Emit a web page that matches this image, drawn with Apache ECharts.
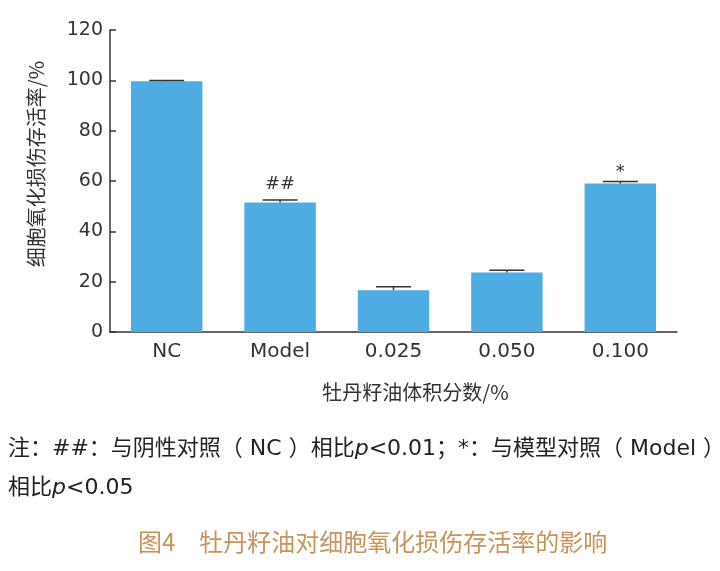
<!DOCTYPE html>
<html>
<head>
<meta charset="utf-8">
<script src="https://cdn.jsdelivr.net/npm/echarts@6/dist/echarts.min.js"></script>
<style>html,body{margin:0;padding:0;background:#fff;}#c{width:720px;height:571px;}</style>
</head>
<body>
<div id="c"></div>
<script>
var categories = ['NC', 'Model', '0.025', '0.050', '0.100'];
var values = [99.6, 51.5, 16.6, 23.6, 59.0];
var errors = [0.3, 1.0, 1.4, 0.9, 0.8];
var marks = ['', '##', '', '', '*'];
var yTicks = [0, 20, 40, 60, 80, 100, 120];
var yName = '细胞氧化损伤存活率/%';
var xName = '牡丹籽油体积分数/%';
var noteLine1 = '注：##：与阴性对照（ NC ）相比p<0.01；*：与模型对照（ Model ）';
var noteLine2 = '相比p<0.05';
var caption = '图4　牡丹籽油对细胞氧化损伤存活率的影响';

var FONT = '"DejaVu Sans", "Noto Sans CJK SC", sans-serif';
var CJK = '"Noto Sans CJK SC", sans-serif';

var chart = echarts.init(document.getElementById('c'));
var errData = values.map(function (v, i) { return [i, v, v + errors[i], marks[i]]; });

function richNote(s) {
  return s.replace('p<', '{i|p}<');
}

chart.setOption({
  animation: false,
  grid: { left: 110, right: 43, top: 30, bottom: 239 },
  xAxis: {
    type: 'category',
    data: categories,
    axisLine: { lineStyle: { color: '#333', width: 1.5 } },
    axisTick: { inside: true, alignWithLabel: true, length: 5, lineStyle: { color: '#333', width: 1.5 } },
    axisLabel: { color: '#333', fontSize: 20, fontFamily: FONT, margin: 10 },
    name: xName,
    nameLocation: 'middle',
    nameGap: 50,
    nameTextStyle: { color: '#333', fontSize: 20, fontFamily: CJK, padding: [0, 0, 0, 44] }
  },
  yAxis: {
    type: 'value',
    min: yTicks[0],
    max: yTicks[yTicks.length - 1],
    interval: 20,
    splitLine: { show: false },
    axisLine: { show: true, lineStyle: { color: '#333', width: 1.5 } },
    axisTick: { show: true, inside: true, length: 6, lineStyle: { color: '#333', width: 1.5 } },
    axisLabel: { color: '#333', fontSize: 19, fontFamily: FONT, margin: 7 },
    name: yName,
    nameLocation: 'middle',
    nameGap: 64,
    nameRotate: 90,
    nameTextStyle: { color: '#333', fontSize: 20, fontFamily: CJK, padding: [0, 0, 0, 34] }
  },
  series: [
    {
      type: 'bar',
      data: values,
      barWidth: '63%',
      itemStyle: { color: '#4FACE2' }
    },
    {
      type: 'custom',
      data: errData,
      z: 5,
      renderItem: function (params, api) {
        var x = api.value(0);
        var top = api.coord([x, api.value(2)]);
        var base = api.coord([x, api.value(1)]);
        var half = 17.5;
        var children = [
          { type: 'line', shape: { x1: top[0], y1: top[1], x2: top[0], y2: base[1] }, style: { stroke: '#333', lineWidth: 1.5 } },
          { type: 'line', shape: { x1: top[0] - half, y1: top[1], x2: top[0] + half, y2: top[1] }, style: { stroke: '#333', lineWidth: 1.5 } }
        ];
        var m = api.value(3);
        if (m) {
          children.push({
            type: 'text',
            style: { text: m, x: top[0], y: top[1] - (m === '*' ? 9 : 16), align: 'center', verticalAlign: 'middle', fill: '#333', font: '18px "DejaVu Sans", sans-serif' }
          });
        }
        return { type: 'group', children: children };
      }
    }
  ],
  graphic: [
    {
      type: 'text', left: 8, top: 438,
      style: {
        text: richNote(noteLine1), fill: '#222', font: '22px ' + FONT,
        rich: { i: { fontStyle: 'italic', fontSize: 22, fontFamily: FONT, fill: '#222' } }
      }
    },
    {
      type: 'text', left: 8, top: 477,
      style: {
        text: richNote(noteLine2), fill: '#222', font: '22px ' + FONT,
        rich: { i: { fontStyle: 'italic', fontSize: 22, fontFamily: FONT, fill: '#222' } }
      }
    },
    {
      type: 'text', left: 138, top: 530,
      style: { text: caption, fill: '#C8935C', font: '24px ' + CJK }
    }
  ]
});
</script>
</body>
</html>
